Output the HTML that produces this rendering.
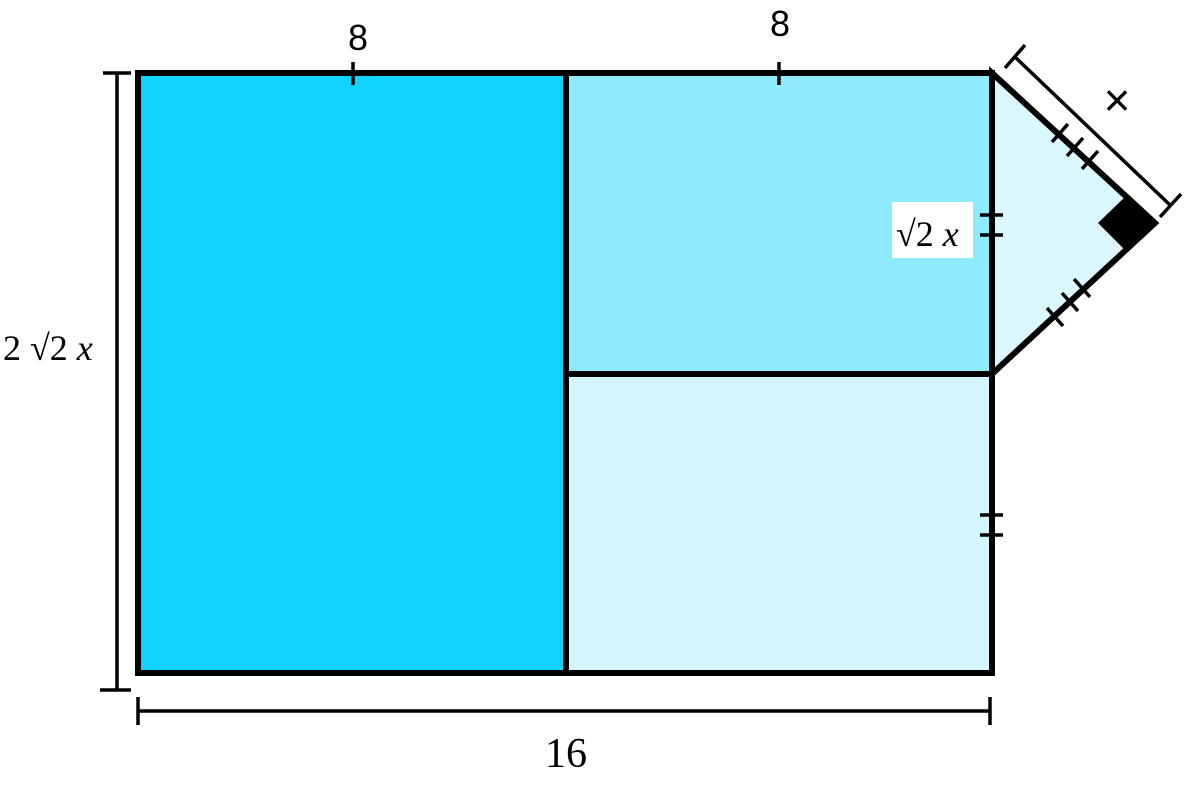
<!DOCTYPE html>
<html><head><meta charset="utf-8"><style>
html,body{margin:0;padding:0;background:#fff;width:1200px;height:785px;overflow:hidden}
</style></head><body>
<svg width="1200" height="785" viewBox="0 0 1200 785">
<g stroke="#000" stroke-width="6" stroke-linejoin="miter">
<rect x="138" y="73" width="428" height="600" fill="#10d4ff"/>
<rect x="566" y="73" width="426" height="301" fill="#8eeafd"/>
<rect x="566" y="374" width="426" height="299" fill="#d4f6fe"/>
<polygon points="992,73 1155,223 992,374" fill="#daf8fe"/>
</g>
<polygon points="1125,197 1157,223 1125,250 1098,223" fill="#000"/>
<g stroke="#000" stroke-width="3.5">
<line x1="353" y1="62" x2="353" y2="85"/><line x1="779" y1="62" x2="779" y2="85"/>
<line x1="980" y1="215" x2="1003" y2="215"/><line x1="980" y1="235" x2="1003" y2="235"/>
<line x1="980" y1="515" x2="1003" y2="515"/><line x1="980" y1="535" x2="1003" y2="535"/>
<line x1="1052" y1="142" x2="1068" y2="124"/><line x1="1067" y1="156" x2="1083" y2="138"/><line x1="1082" y1="169" x2="1098" y2="151"/>
<line x1="1047" y1="308" x2="1063" y2="326"/><line x1="1062" y1="293" x2="1078" y2="311"/><line x1="1074" y1="279" x2="1090" y2="297"/>
<line x1="1015" y1="57" x2="1170" y2="205"/>
<line x1="1005" y1="68" x2="1025" y2="45"/><line x1="1160" y1="217" x2="1181" y2="194"/>
<line x1="117" y1="73" x2="117" y2="690"/>
<line x1="103" y1="73" x2="131" y2="73"/><line x1="100" y1="690" x2="131" y2="690"/>
<line x1="138" y1="711" x2="990" y2="711"/>
<line x1="138" y1="697" x2="138" y2="725"/><line x1="990" y1="697" x2="990" y2="725"/>
</g>
<rect x="892" y="202" width="81" height="56" fill="#fff"/>
<g font-family="Liberation Sans, sans-serif" font-size="36" fill="#000">
<text x="358" y="50" text-anchor="middle">8</text>
<text x="780" y="36" text-anchor="middle">8</text>
<text x="1117" y="116" text-anchor="middle" font-size="46">×</text>
</g>
<g font-family="Liberation Serif, serif" font-size="36" fill="#000">
<text x="566" y="767" text-anchor="middle" font-size="42">16</text>
<text x="896" y="246">√2 <tspan font-style="italic">x</tspan></text>
<text x="3" y="360">2 √2 <tspan font-style="italic">x</tspan></text>
</g>
</svg>
</body></html>
